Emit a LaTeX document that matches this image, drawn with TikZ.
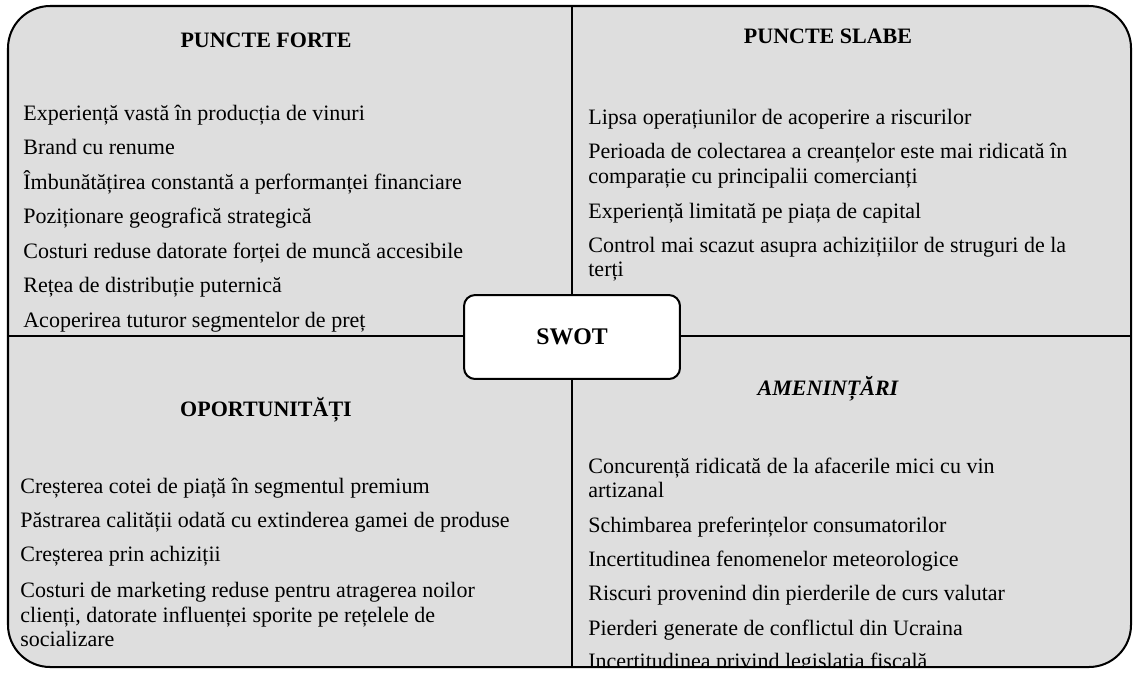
\documentclass[tikz,border=0pt]{standalone}
\usepackage{fontspec}
\setmainfont{Liberation Serif}
\definecolor{swotgray}{RGB}{222,222,222}
\tikzset{
	heading/.style={font=\fontsize{12}{14}\selectfont\bfseries, anchor=base, inner sep=0pt},
	itemtext/.style={font=\fontsize{12}{14}\selectfont, anchor=base west, inner sep=0pt},
	swotbox/.style={draw, line width=1.1pt, fill=white, rounded corners=6pt, minimum width=117.8pt, minimum height=45.8pt, font=\fontsize{13}{15}\selectfont\bfseries},
	border/.style={line width=1.1pt}
}
\begin{document}
\begin{tikzpicture}[x=0.5455pt, y=-0.5455pt]
	%%%%% START %%%%%
	\useasboundingbox (0,0) rectangle (1133,672);
	
	\fill[swotgray, rounded corners=23pt] (8,6) rectangle (1131,667);
	
	\coordinate (ctop) at (572,6);
	\coordinate (cbot) at (572,667);
	\coordinate (cleft) at (8,336);
	\coordinate (cright) at (1131,336);
	
	\begin{scope}
		\clip[rounded corners=23pt] (8,6) rectangle (1131,667);
		
		\node[heading] (pf) at (266,47) {PUNCTE FORTE};
		\node[itemtext] (pf1) at (23,120) {Experiență vastă în producția de vinuri};
		\node[itemtext] (pf2) at (23,154) {Brand cu renume};
		\node[itemtext] (pf3) at (23,189) {Îmbunătățirea constantă a performanței financiare};
		\node[itemtext] (pf4) at (23,223) {Poziționare geografică strategică};
		\node[itemtext] (pf5) at (23,258) {Costuri reduse datorate forței de muncă accesibile};
		\node[itemtext] (pf6) at (23,292) {Rețea de distribuție puternică};
		\node[itemtext] (pf7) at (23,327) {Acoperirea tuturor segmentelor de preț};
		
		\node[heading] (ps) at (828,43) {PUNCTE SLABE};
		\node[itemtext] (ps1) at (588,124) {Lipsa operațiunilor de acoperire a riscurilor};
		\node[itemtext] (ps2) at (588,158) {Perioada de colectarea a creanțelor este mai ridicată în};
		\node[itemtext] (ps2b) at (588,183) {comparație cu principalii comercianți};
		\node[itemtext] (ps3) at (588,218) {Experiență limitată pe piața de capital};
		\node[itemtext] (ps4) at (588,252) {Control mai scazut asupra achizițiilor de struguri de la};
		\node[itemtext] (ps4b) at (588,276) {terți};
		
		\node[heading] (op) at (266,416) {OPORTUNITĂȚI};
		\node[itemtext] (op1) at (20,493) {Creșterea cotei de piață în segmentul premium};
		\node[itemtext] (op2) at (20,527) {Păstrarea calității odată cu extinderea gamei de produse};
		\node[itemtext] (op3) at (20,561) {Creșterea prin achiziții};
		\node[itemtext] (op4) at (20,597) {Costuri de marketing reduse pentru atragerea noilor};
		\node[itemtext] (op4b) at (20,622) {clienți, datorate influenței sporite pe rețelele de};
		\node[itemtext] (op4c) at (20,646) {socializare};
		
		\node[heading, font=\fontsize{12}{14}\selectfont\bfseries\itshape] (am) at (828,395) {AMENINȚĂRI};
		\node[itemtext] (am1) at (588,473) {Concurență ridicată de la afacerile mici cu vin};
		\node[itemtext] (am1b) at (588,497) {artizanal};
		\node[itemtext] (am2) at (588,532) {Schimbarea preferințelor consumatorilor};
		\node[itemtext] (am3) at (588,566) {Incertitudinea fenomenelor meteorologice};
		\node[itemtext] (am4) at (588,600) {Riscuri provenind din pierderile de curs valutar};
		\node[itemtext] (am5) at (588,635) {Pierderi generate de conflictul din Ucraina};
		\node[itemtext] (am6) at (588,668) {Incertitudinea privind legislația fiscală};
	\end{scope}
	
	\draw[border] (ctop) -- (cbot);
	\draw[border] (cleft) -- (cright);
	
	\node[swotbox] (swot) at (572,337) {SWOT};
	
	\draw[border, rounded corners=23pt] (8,6) rectangle (1131,667);
	
	%%%%% END %%%%%
\end{tikzpicture}
\end{document}
